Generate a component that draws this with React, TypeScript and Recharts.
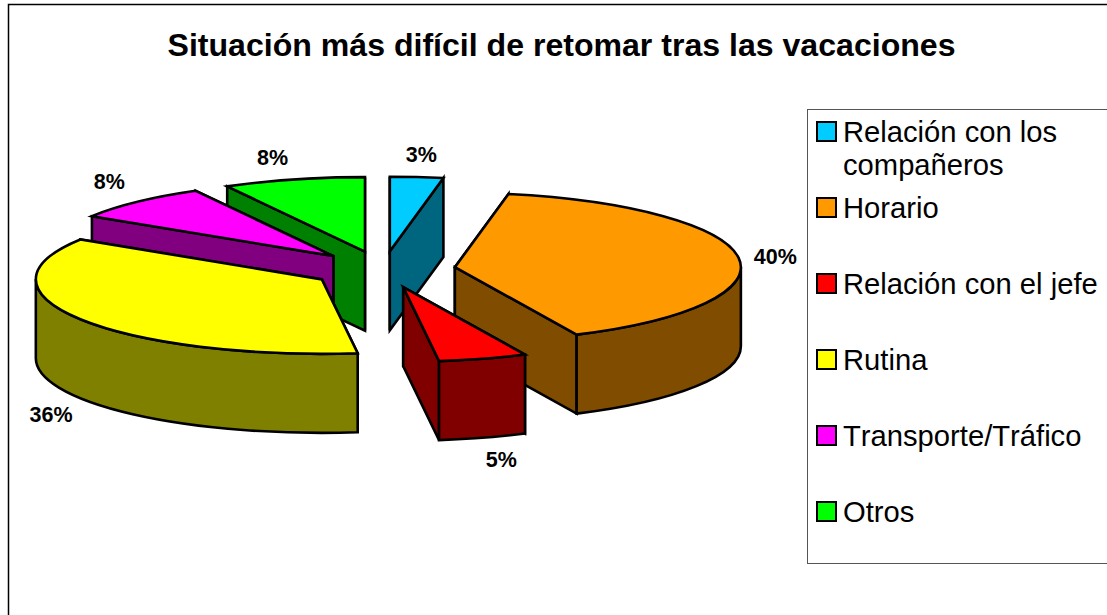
import React from "react";
import { PieChart, Pie, Legend } from "recharts";

const title = "Situación más difícil de retomar tras las vacaciones";
const categories = ["Relación con los compañeros", "Horario", "Relación con el jefe", "Rutina", "Transporte/Tráfico", "Otros"];
const legendLines = [["Relación con los", "compañeros"], ["Horario"], ["Relación con el jefe"], ["Rutina"], ["Transporte/Tráfico"], ["Otros"]];
const values = [3, 40, 5, 36, 8, 8];
const topColors = ["#00CCFF", "#FF9900", "#FF0000", "#FFFF00", "#FF00FF", "#00FF00"];
const sideColors = ["#006680", "#804D00", "#800000", "#808000", "#800080", "#008000"];
const labelNudgeX = [1, 0, 8, 2, -3, -12];
const labelNudgeY = [1, 2, 0, 4, -3, 1];

// Sectors run counter-clockwise from the top in reverse order, so that the
// painter's order matches the picture (Otros first, Relación con los compañeros last).
const table = categories
  .map((name, i) => ({ name, value: values[i], fill: topColors[i], side: sideColors[i], nx: labelNudgeX[i], ny: labelNudgeY[i] }))
  .reverse();
const frontSlice = "Relación con el jefe";

const FONT = "'Liberation Sans', Arial, sans-serif";
const W = 1107;
const H = 615;
const CX = 383;
const CY = 269.5;
const R = 286;
const SQUASH = 0.2605;
const DEPTH = 79;
const EXPLODE_X = 0.2533;
const EXPLODE_Y = 0.247;
const LINE = 2.6;

const rad = (d: number) => (d * Math.PI) / 180;

function Slice(props: any) {
  const { cx, cy, outerRadius, startAngle, endAngle, fill, payload } = props;
  const side = payload?.side ?? props.side;
  let a = 90 - endAngle;
  let b = 90 - startAngle;
  while (a < -1e-6) {
    a += 360;
    b += 360;
  }
  const rx = outerRadius;
  const ry = outerRadius * SQUASH;
  const mid = (a + b) / 2;
  const tx = cx + rx * EXPLODE_X * Math.sin(rad(mid));
  const ty = cy - ry * EXPLODE_Y * Math.cos(rad(mid));
  const pt = (th: number): [number, number] => [tx + rx * Math.sin(rad(th)), ty - ry * Math.cos(rad(th))];
  const wall = (th: number) => {
    const p = pt(th);
    return `M${tx},${ty}L${p[0]},${p[1]}L${p[0]},${p[1] + DEPTH}L${tx},${ty + DEPTH}Z`;
  };
  const [pa, pb] = [pt(a), pt(b)];
  const large = b - a > 180 ? 1 : 0;
  const top = `M${tx},${ty}L${pa[0]},${pa[1]}A${rx},${ry} 0 ${large} 1 ${pb[0]},${pb[1]}Z`;
  const fa = Math.max(a, 90);
  const fb = Math.min(b, 270);
  let outer = null;
  if (fb > fa) {
    const p = pt(fa);
    const q = pt(fb);
    outer = `M${p[0]},${p[1]}A${rx},${ry} 0 0 1 ${q[0]},${q[1]}L${q[0]},${q[1] + DEPTH}A${rx},${ry} 0 0 0 ${p[0]},${p[1] + DEPTH}Z`;
  }
  const line = { stroke: "#000", strokeWidth: LINE, strokeLinejoin: "miter" as const };
  // the radial wall further back is painted first
  const walls = pa[1] < pb[1] ? [a, b] : [b, a];
  return (
    <g>
      <path d={wall(walls[0])} fill={side} {...line} />
      <path d={wall(walls[1])} fill={side} {...line} />
      {outer && <path d={outer} fill={side} {...line} />}
      <path d={top} fill={fill} {...line} />
    </g>
  );
}

function BackSlice(props: any) {
  return props.payload?.name === frontSlice || props.name === frontSlice ? <g /> : <Slice {...props} />;
}
function FrontSlice(props: any) {
  return props.payload?.name === frontSlice || props.name === frontSlice ? <Slice {...props} /> : <g />;
}

function SliceLabel(props: any) {
  const { cx, cy, outerRadius, midAngle, value, payload } = props;
  const th = 90 - midAngle;
  const s = Math.sin(rad(th));
  const c = Math.cos(rad(th));
  const rx = outerRadius;
  const ry = outerRadius * SQUASH;
  const x = cx + rx * EXPLODE_X * s + rx * s + 37 * s + (payload?.nx ?? props.nx ?? 0);
  const y = cy - ry * EXPLODE_Y * c - ry * c - 23 * c + (c < 0 ? DEPTH : 0) + (payload?.ny ?? props.ny ?? 0);
  return (
    <text x={x} y={y} textAnchor="middle" dominantBaseline="central" fontFamily={FONT} fontWeight="bold" fontSize={21.5} fill="#000" style={{ fontKerning: "none" }}>
      {`${value}%`}
    </text>
  );
}

function LegendBox() {
  return (
    <div style={{ position: "relative", width: 320, height: 455, boxSizing: "border-box", border: "1.5px solid #555", background: "#fff", fontFamily: FONT, color: "#000" }}>
      {legendLines.map((lines, i) => (
        <div key={i}>
          <div style={{ position: "absolute", left: 8, top: 10.5 + i * 76, width: 21, height: 21, boxSizing: "border-box", border: `${LINE}px solid #000`, background: topColors[i] }} />
          <div style={{ position: "absolute", left: 35, top: 6 + i * 76, fontSize: 29.2, lineHeight: "33px", whiteSpace: "nowrap", fontKerning: "none" }}>
            {lines.map((l, j) => (
              <div key={j}>{l}</div>
            ))}
          </div>
        </div>
      ))}
    </div>
  );
}

export default function App() {
  return (
    <div style={{ position: "fixed", left: 0, top: 0, width: W, height: H, overflow: "hidden", background: "#fff" }}>
      <PieChart width={W} height={H} margin={{ top: 0, right: 0, bottom: 0, left: 0 }}>
        <rect x={8.5} y={4.5} width={W + 20} height={H + 20} fill="#fff" stroke="#000" strokeWidth={1.5} />
        <text x={561.5} y={56} textAnchor="middle" fontFamily={FONT} fontWeight="bold" fontSize={32.08} fill="#000" style={{ fontKerning: "none" }}>
          {title}
        </text>
        <Pie
          data={table}
          dataKey="value"
          nameKey="name"
          cx={CX}
          cy={CY}
          innerRadius={0}
          outerRadius={R}
          startAngle={90}
          endAngle={450}
          isAnimationActive={false}
          shape={BackSlice}
          label={false}
          labelLine={false}
          stroke="#000"
        />
        <Pie
          data={table}
          dataKey="value"
          nameKey="name"
          cx={CX}
          cy={CY}
          innerRadius={0}
          outerRadius={R}
          startAngle={90}
          endAngle={450}
          isAnimationActive={false}
          shape={FrontSlice}
          label={SliceLabel}
          labelLine={false}
          stroke="#000"
          legendType="none"
        />
        <Legend content={<LegendBox />} wrapperStyle={{ position: "absolute", left: 807, top: 109, width: 320, height: 455, bottom: "auto" }} />
      </PieChart>
    </div>
  );
}
